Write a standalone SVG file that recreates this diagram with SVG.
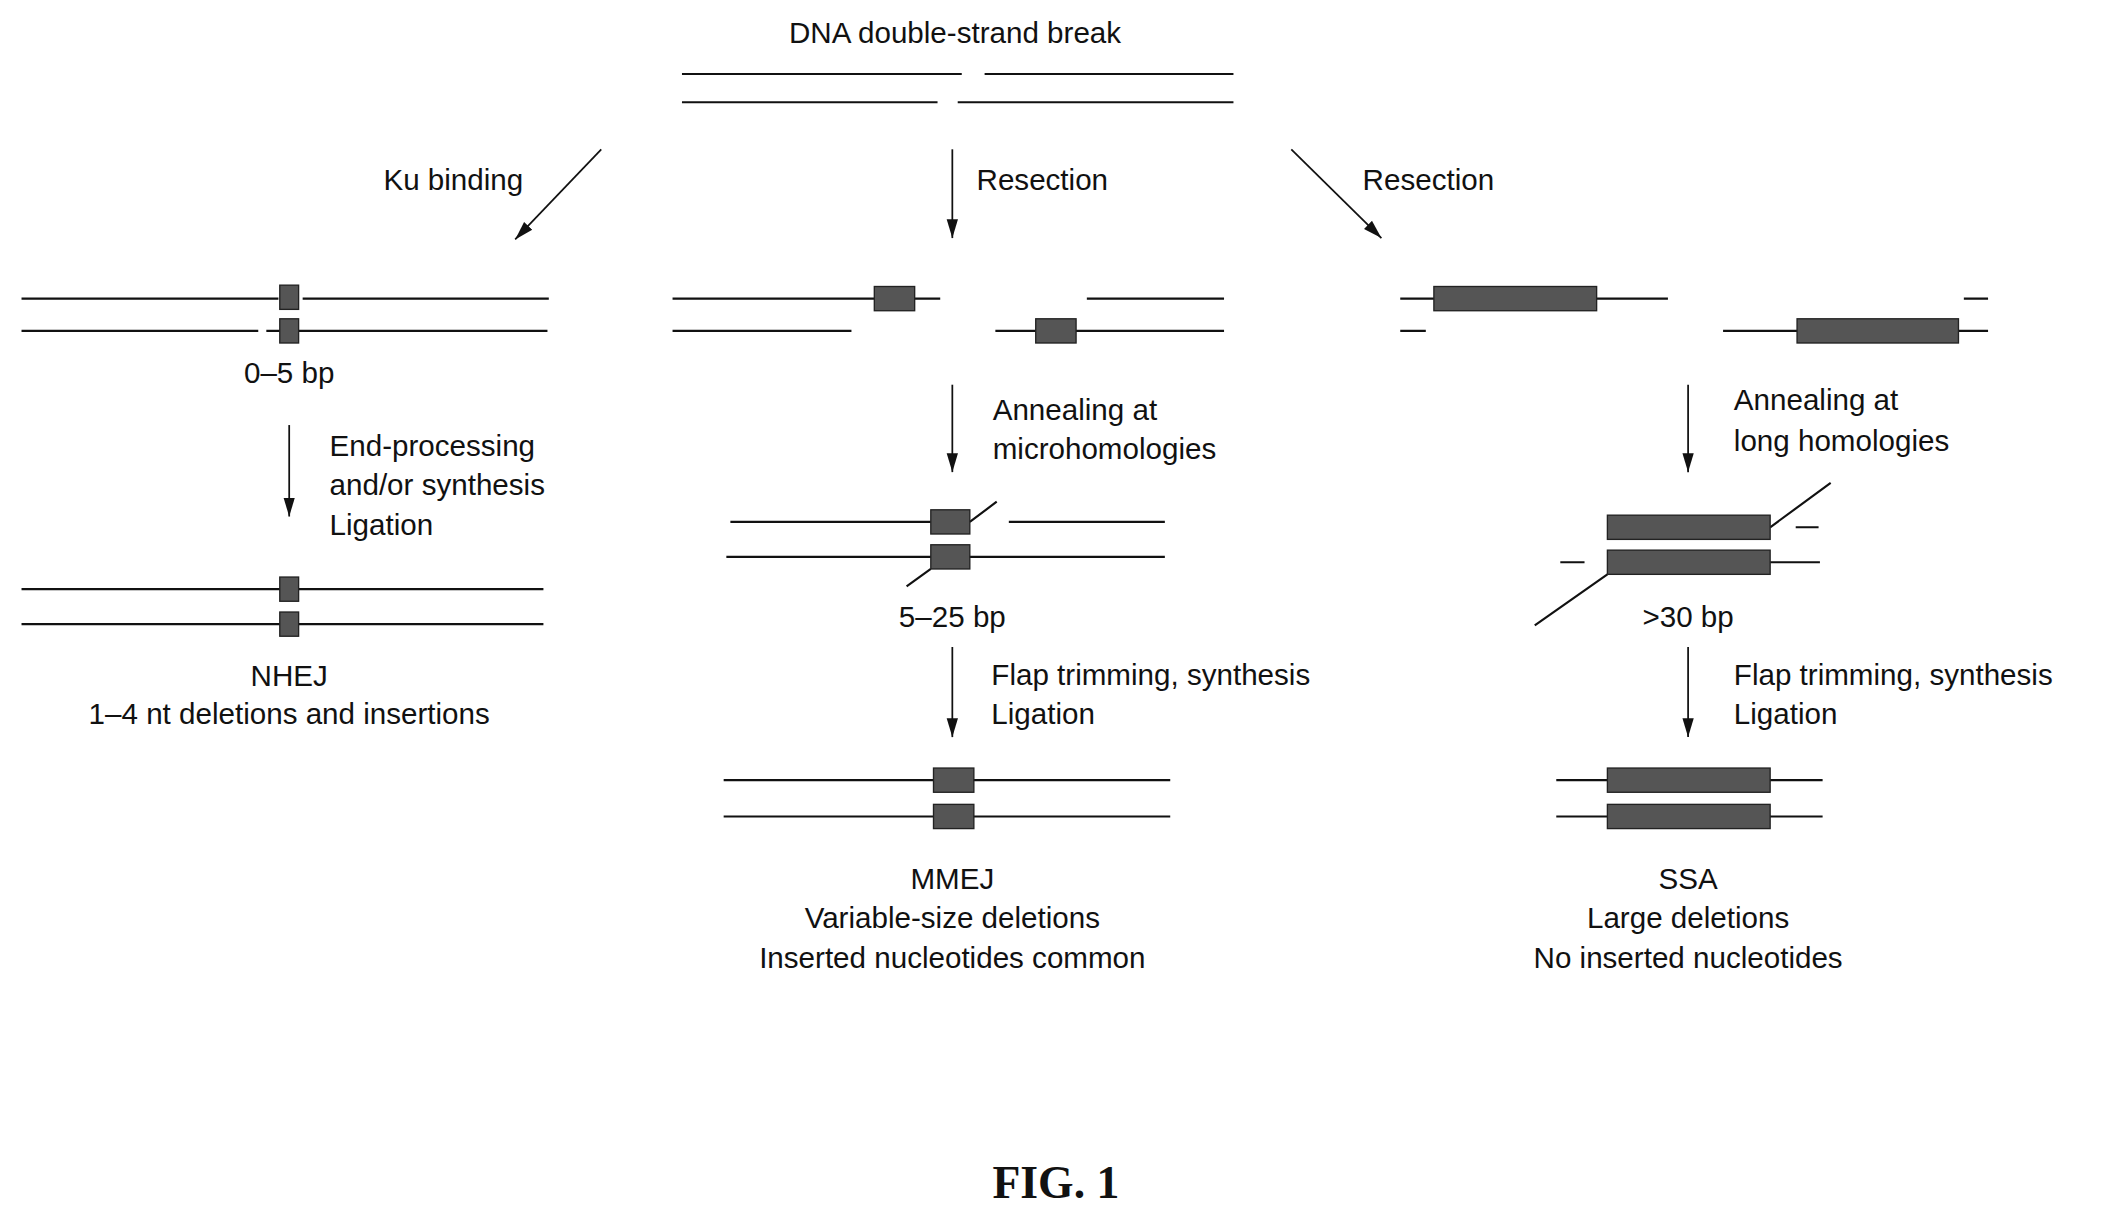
<svg xmlns="http://www.w3.org/2000/svg" width="2109" height="1221" viewBox="0 0 2109 1221">
<style>
.s{stroke:#111;stroke-width:1.6;fill:none}
.b{fill:#555;stroke:#222;stroke-width:1}
.a{stroke:#111;stroke-width:1.3;fill:none;marker-end:url(#ah)}
text{font-family:"Liberation Sans",Arial,sans-serif;font-size:22px;fill:#111}
.c{text-anchor:middle}
</style>
<defs><marker id="ah" viewBox="0 0 10 10" refX="10" refY="5" markerWidth="14" markerHeight="14" markerUnits="userSpaceOnUse" orient="auto"><path d="M0,2 L10,5 L0,8 z" fill="#111"/></marker></defs>
<rect width="2109" height="1221" fill="#fff"/>
<g transform="scale(1.3451)">
<g id="break">
<text class="c" x="710" y="32">DNA double-strand break</text>
<path class="s" d="M507,55H715M732,55H917M507,76H697M712,76H917"/>
</g>
<g id="connectors">
<line class="a" x1="447" y1="111" x2="383" y2="178"/>
<line class="a" x1="708" y1="111" x2="708" y2="177"/>
<line class="a" x1="960" y1="111" x2="1027" y2="177"/>
<line class="a" x1="215" y1="316" x2="215" y2="384"/>
<line class="a" x1="708" y1="286" x2="708" y2="351"/>
<line class="a" x1="708" y1="481" x2="708" y2="548"/>
<line class="a" x1="1255" y1="286" x2="1255" y2="351"/>
<line class="a" x1="1255" y1="481" x2="1255" y2="548"/>
<text x="389" y="141" text-anchor="end">Ku binding</text>
<text x="726" y="141">Resection</text>
<text x="1013" y="141">Resection</text>
<text x="245" y="339">End-processing</text><text x="245" y="368">and/or synthesis</text><text x="245" y="398">Ligation</text>
<text x="738" y="312">Annealing at</text><text x="738" y="341">microhomologies</text>
<text x="737" y="509">Flap trimming, synthesis</text><text x="737" y="538">Ligation</text>
<text x="1289" y="305">Annealing at</text><text x="1289" y="335">long homologies</text>
<text x="1289" y="509">Flap trimming, synthesis</text><text x="1289" y="538">Ligation</text>
</g>
<g id="nhej">
<path class="s" d="M16,222H207M225,222H408M16,246H192M198,246H407"/>
<rect class="b" x="208" y="212" width="14" height="18"/><rect class="b" x="208" y="237" width="14" height="18"/>
<text class="c" x="215" y="285">0–5 bp</text>
<path class="s" d="M16,438H404M16,464H404"/>
<rect class="b" x="208" y="429" width="14" height="18"/><rect class="b" x="208" y="455" width="14" height="18"/>
<text class="c" x="215" y="510">NHEJ</text><text class="c" x="215" y="538">1–4 nt deletions and insertions</text>
</g>
<g id="mmej">
<path class="s" d="M500,222H699M808,222H910M500,246H633M740,246H910"/>
<rect class="b" x="650" y="213" width="30" height="18"/><rect class="b" x="770" y="237" width="30" height="18"/>
<path class="s" d="M543,388H692M721,388L741,373M750,388H866M540,414H866M692,423L674,436"/>
<rect class="b" x="692" y="379" width="29" height="18"/><rect class="b" x="692" y="405" width="29" height="18"/>
<text class="c" x="708" y="466">5–25 bp</text>
<path class="s" d="M538,580H870M538,607H870"/>
<rect class="b" x="694" y="571" width="30" height="18"/><rect class="b" x="694" y="598" width="30" height="18"/>
<text class="c" x="708" y="661">MMEJ</text><text class="c" x="708" y="690">Variable-size deletions</text><text class="c" x="708" y="720">Inserted nucleotides common</text>
</g>
<g id="ssa">
<path class="s" d="M1041,222H1240M1460,222H1478M1041,246H1060M1281,246H1478"/>
<rect class="b" x="1066" y="213" width="121" height="18"/><rect class="b" x="1336" y="237" width="120" height="18"/>
<path class="s" d="M1316,392L1361,359M1335,392H1352M1160,418H1178M1316,418H1353M1195,427L1141,465"/>
<rect class="b" x="1195" y="383" width="121" height="18"/><rect class="b" x="1195" y="409" width="121" height="18"/>
<text class="c" x="1255" y="466">&gt;30 bp</text>
<path class="s" d="M1157,580H1355M1157,607H1355"/>
<rect class="b" x="1195" y="571" width="121" height="18"/><rect class="b" x="1195" y="598" width="121" height="18"/>
<text class="c" x="1255" y="661">SSA</text><text class="c" x="1255" y="690">Large deletions</text><text class="c" x="1255" y="720">No inserted nucleotides</text>
</g>
<text class="c" x="785" y="891" style="font-family:'Liberation Serif',serif;font-weight:bold;font-size:34px">FIG. 1</text>
</g>
</svg>
